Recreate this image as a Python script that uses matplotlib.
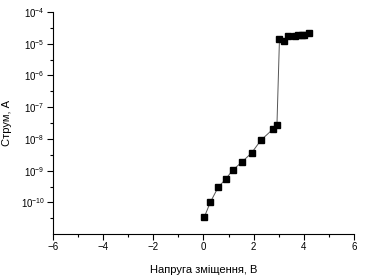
import numpy as np
import matplotlib
matplotlib.use('Agg')
import matplotlib.pyplot as plt
from matplotlib.ticker import FixedLocator, LogFormatterMathtext, NullFormatter

plt.rcParams['font.family'] = ['Liberation Sans', 'DejaVu Sans']

# Bias voltage (V) and log10 of current (A)
voltage = [0.04, 0.27, 0.58, 0.88, 1.17, 1.53, 1.92, 2.29, 2.76, 2.93,
           3.03, 3.21, 3.37, 3.65, 3.78, 3.91, 4.01, 4.21]
log_current = [-10.45, -10.0, -9.53, -9.27, -8.98, -8.73, -8.44, -8.04, -7.70, -7.55,
               -4.86, -4.92, -4.75, -4.74, -4.73, -4.72, -4.71, -4.67]
current = [10 ** v for v in log_current]

x_ticks = [-6, -4, -2, 0, 2, 4, 6]
y_decades = [-10, -9, -8, -7, -6, -5, -4]

fig = plt.figure(figsize=(3.66, 2.8), dpi=100)
ax = fig.add_axes([0.145, 0.164, 0.822, 0.793])

ax.plot(voltage, current, color='#555555', linewidth=0.7,
        marker='s', markersize=3.8, markerfacecolor='black', markeredgecolor='black')

ax.set_yscale('log')
ax.set_xlim(-6, 6)
ax.set_ylim(1e-11, 1e-4)

ax.set_xticks(x_ticks)
ax.set_xticks(np.arange(-5, 6, 2), minor=True)
ax.yaxis.set_major_locator(FixedLocator([10.0 ** d for d in y_decades]))
ax.yaxis.set_major_formatter(LogFormatterMathtext())
ax.yaxis.set_minor_locator(FixedLocator([10 ** (d + 0.5) for d in range(-11, -4)]))
ax.yaxis.set_minor_formatter(NullFormatter())

for side in ['top', 'right']:
    ax.spines[side].set_visible(False)
for side in ['left', 'bottom']:
    ax.spines[side].set_linewidth(0.8)

ax.tick_params(which='major', direction='out', length=4, width=0.8, labelsize=7, pad=2)
ax.tick_params(which='minor', direction='out', length=2.5, width=0.8)

ax.set_xlabel('Напруга зміщення, В', fontsize=8, labelpad=9)
ax.set_ylabel('Струм, А', fontsize=8, labelpad=6)

fig.savefig('out.png', dpi=100)
